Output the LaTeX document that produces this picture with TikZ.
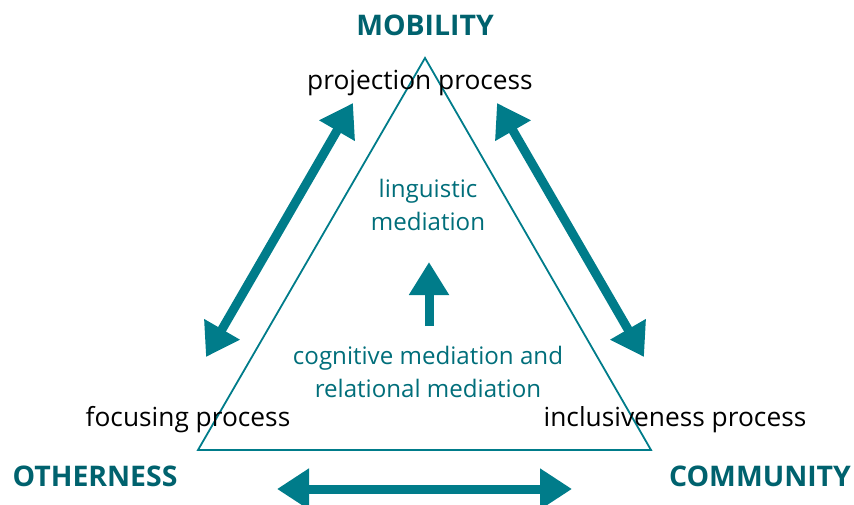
\documentclass[tikz,border=0pt]{standalone}
\usepackage{fontspec}
\setmainfont{Open Sans}
\usetikzlibrary{arrows.meta}
\definecolor{petrol}{RGB}{0,124,138}
\definecolor{petroltext}{RGB}{0,110,122}
\definecolor{petroldunkel}{RGB}{0,98,110}
\tikzset{ecke/.style = {
    font=\fontsize{28.5}{30}\selectfont\bfseries, text=petroldunkel, inner sep=0pt
}}
\tikzset{prozess/.style = {
    font=\fontsize{26.4}{30}\selectfont, text=black, inner sep=0pt
}}
\tikzset{vermittlung/.style = {
    font=\fontsize{24.2}{32.5}\selectfont, text=petroltext, align=center, inner sep=0pt
}}
\tikzset{pfeil/.style = {
    draw=petrol, line width=9bp,
    {Triangle[length=32bp,width=39bp]}-{Triangle[length=32bp,width=39bp]}
}}

\begin{document}
\begin{tikzpicture}[x=1bp, y=-1bp]
  \useasboundingbox (0,0) rectangle (854,505);
  % Dreieck
  \coordinate (spitze) at (425,58);
  \coordinate (links) at (198,450);
  \coordinate (rechts) at (651,450);
  \draw[petrol, line width=1.8bp, line join=miter] (spitze) -- (links) -- (rechts) -- cycle;
  % Ecken
  \node (mob) at (425,25) [ecke] {MOBILITY};
  \node (oth) at (95,476) [ecke] {OTHERNESS};
  \node (com) at (760,476) [ecke] {COMMUNITY};
  % Prozesse
  \node (proj) at (420,83) [prozess] {projection process};
  \node (foc) at (188,420) [prozess] {focusing process};
  \node (inc) at (675,420) [prozess] {inclusiveness process};
  % Vermittlung
  \node (ling) at (428,205) [vermittlung] {linguistic\\mediation};
  \node (kog) at (428,372) [vermittlung] {cognitive mediation and\\relational mediation};
  % Pfeile
  \coordinate (lu) at (206,357);
  \coordinate (lo) at (353,103);
  \coordinate (ro) at (497,103);
  \coordinate (ru) at (644,357);
  \coordinate (ul) at (277,489);
  \coordinate (ur) at (572,489);
  \coordinate (mu) at (429,326);
  \coordinate (mo) at (429,262);
  \draw[pfeil] (lu) -- (lo);
  \draw[pfeil] (ro) -- (ru);
  \draw[pfeil] (ul) -- (ur);
  \draw[pfeil, -{Triangle[length=33bp,width=38bp]}] (mu) -- (mo);
\end{tikzpicture}
\end{document}
